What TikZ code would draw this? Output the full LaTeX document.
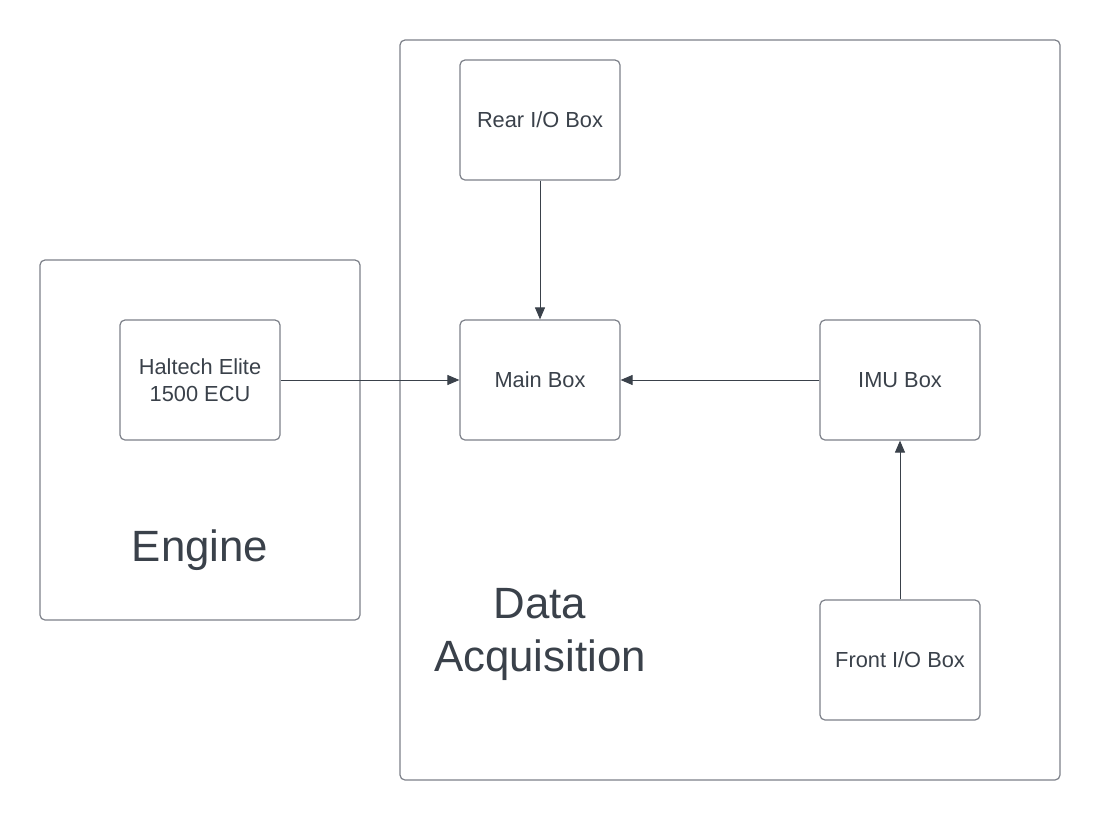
\documentclass[tikz,border=0pt]{standalone}
\usepackage{fontspec}
\setmainfont{Liberation Sans}
\usetikzlibrary{arrows.meta}
\definecolor{txt}{HTML}{3A414A}
\definecolor{bord}{HTML}{7D8189}
\tikzset{
  frame/.style={draw=bord, line width=1.2pt, rounded corners=5pt, fill=white},
  unit/.style={draw=bord, line width=1.2pt, rounded corners=5pt, minimum width=160pt, minimum height=120pt, inner sep=0pt, text=txt, align=center, font=\fontsize{21.8}{26.7}\selectfont},
  big/.style={text=txt, align=center, font=\fontsize{43.8}{53}\selectfont},
  link/.style={draw=txt, line width=1pt, -{Triangle[length=12pt, width=10pt]}}
}
\begin{document}
\begin{tikzpicture}[x=1pt, y=-1pt]
\useasboundingbox[fill=white] (0,0) rectangle (1100,820);
\draw[frame] (40,260) rectangle (360,620);
\draw[frame] (400,40) rectangle (1060,780);
\node[unit] (rear) at (540,120) {Rear I/O Box};
\node[unit] (main) at (540,380) {Main Box};
\node[unit] (ecu) at (200,380) {Haltech Elite\\1500 ECU};
\node[unit] (imu) at (900,380) {IMU Box};
\node[unit] (front) at (900,660) {Front I/O Box};
\node[big] (engine) at (200,550) {Engine};
\node[big] (daq) at (540,634) {Data\\Acquisition};
\draw[link] (rear) -- (main);
\draw[link] (ecu) -- (main);
\draw[link] (imu) -- (main);
\draw[link] (front) -- (imu);
\end{tikzpicture}
\end{document}
